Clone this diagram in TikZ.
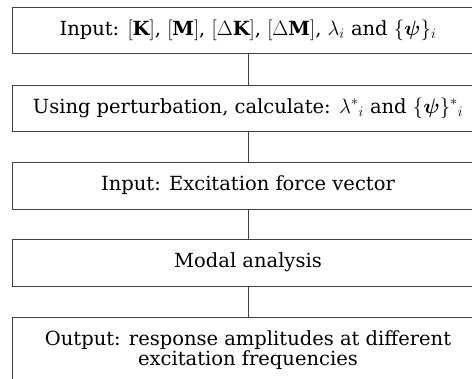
\documentclass[tikz,border=0pt]{standalone}
\usepackage{amsmath,bm}
\usepackage{fontspec}
\setmainfont{DejaVu Serif}
\begin{document}
\begin{tikzpicture}[x=1pt,y=-1pt,
  box/.style={draw=black!75,line width=0.9pt,minimum width=472pt,inner sep=0pt,align=center,
    font=\fontsize{19.5}{20}\selectfont},
  conn/.style={draw=black!75,line width=0.9pt}]
\useasboundingbox (0,0) rectangle (472,379);
\clip (0,0) rectangle (472,379);
\node[box,minimum height=46pt] (b1) at (248,30) {Input: $[\mathbf{K}]$, $[\mathbf{M}]$, $[\Delta\mathbf{K}]$, $[\Delta\mathbf{M}]$, $\lambda_i$ and $\{\bm{\psi}\}_i$};
\node[box,minimum height=46pt] (b2) at (248,108) {Using perturbation, calculate: $\lambda^*{}_i$ and $\{\bm{\psi}\}^*{}_i$};
\node[box,minimum height=47pt] (b3) at (248,185.5) {Input: Excitation force vector};
\node[box,minimum height=47pt] (b4) at (248,262.5) {Modal analysis};
\node[box,minimum height=66pt] (b5) at (248,350) {Output: response amplitudes at different\\excitation frequencies};
\draw[conn] (b1.south) -- (b2.north);
\draw[conn] (b2.south) -- (b3.north);
\draw[conn] (b3.south) -- (b4.north);
\draw[conn] (b4.south) -- (b5.north);
\end{tikzpicture}
\end{document}
